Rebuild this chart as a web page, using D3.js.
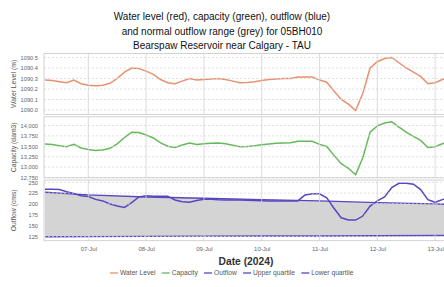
<!DOCTYPE html>
<html><head><meta charset="utf-8">
<script src="https://cdn.jsdelivr.net/npm/d3@7"></script>
<style>body{margin:0;background:#fff}svg{display:block;font-family:"Liberation Sans",Arial,sans-serif}</style>
</head><body><svg id="c" width="444" height="287"></svg>
<script>
// hours relative to 07-Jul-2024 00:00
const hours = [-18,-15,-12,-9,-6,-3,0,3,6,9,12,15,18,21,24,27,30,33,36,39,42,45,48,51,54,57,60,63,66,69,72,75,78,81,84,87,90,93,96,99,102,105,108,111,114,117,120,123,126,129,132,135,138,141,144,147,150];
const waterLevel = [1090.285,1090.28,1090.27,1090.26,1090.285,1090.25,1090.235,1090.23,1090.235,1090.254,1090.30,1090.36,1090.40,1090.395,1090.37,1090.34,1090.29,1090.26,1090.25,1090.275,1090.30,1090.286,1090.29,1090.295,1090.30,1090.29,1090.275,1090.26,1090.262,1090.27,1090.28,1090.29,1090.295,1090.30,1090.30,1090.315,1090.315,1090.315,1090.285,1090.265,1090.18,1090.10,1090.055,1089.995,1090.16,1090.40,1090.46,1090.49,1090.50,1090.45,1090.40,1090.36,1090.32,1090.25,1090.26,1090.29,1090.31];
const capacity = [13552,13540,13515,13490,13545,13460,13420,13400,13410,13450,13560,13710,13840,13830,13770,13700,13580,13500,13470,13530,13580,13545,13560,13570,13580,13560,13525,13490,13495,13510,13535,13555,13570,13580,13585,13620,13620,13620,13545,13495,13280,13080,12970,12815,13230,13840,13990,14060,14090,13960,13840,13740,13640,13470,13490,13560,13610];
const outflow = [234,234,233.5,228,224,219,217,210.5,207,200,195,192,203,216,219,218,218,218,209,205,203.7,208,210.6,210.6,209.5,209,209,209,208.5,208,207.5,207,207,206.7,206.7,207,220.6,223.5,223.5,214,190,168,162.7,162.7,172,195,207,216,238,247.7,247.7,245.5,233,210,203.7,210,216];
const quartileHours = [-18,0,24,48,72,96,120,144,150];
const upperQuartile = [227,221,216,213,210,207,203,200,199];
const lowerQuartile = [124,124.5,125,125.5,126,126,126.5,127,127];
const levelTicks = [1090.0,1090.1,1090.2,1090.3,1090.4,1090.5];
const capacityTicks = [12750,13000,13250,13500,13750,14000];
const outflowTicks = [125,150,175,200,225,250];
const titleLines = ["Water level (red), capacity (green), outflow (blue)","and normal outflow range (grey) for 05BH010","Bearspaw Reservoir near Calgary - TAU"];
const legendItems = ["Water Level","Capacity","Outflow","Upper quartile","Lower quartile"];

const base = new Date(2024,6,7,0,0).getTime();
const toDate = h => new Date(base + h*3600e3);
const svg = d3.select("#c");
const L = 44, R = 448;
const x = d3.scaleTime().domain([new Date(2024,6,6,5,36), new Date(2024,6,13,5,21)]).range([L,R]);

const cLevel = "#e8916e", cCap = "#66b95a", cFlow = "#5647c0";

// title
svg.append("g").selectAll("text").data(titleLines).join("text")
  .attr("x",222).attr("y",(d,i)=>20+i*14.5).attr("text-anchor","middle")
  .attr("font-size",10).attr("fill","#111").text(d=>d);

const panels = [
  {top:53.5,bottom:114.3,domain:[1089.959,1090.538],ticks:levelTicks,fmt:d3.format(".1f"),title:"Water Level (m)"},
  {top:116.8,bottom:177.8,domain:[12740,14210],ticks:capacityTicks,fmt:d3.format(","),title:"Capacity (dam3)"},
  {top:180,bottom:240.7,domain:[115,255.3],ticks:outflowTicks,fmt:d3.format("d"),title:"Outflow (cms)"}
];
const days = d3.timeDay.range(new Date(2024,6,7), new Date(2024,6,14));

panels.forEach((p,i)=>{
  const y = d3.scaleLinear().domain(p.domain).range([p.bottom,p.top]);
  p.y = y;
  const g = svg.append("g");
  const cid = "clip"+i;
  svg.append("clipPath").attr("id",cid).append("rect").attr("x",L).attr("y",p.top).attr("width",R-L).attr("height",p.bottom-p.top);
  p.g = g.append("g").attr("clip-path",`url(#${cid})`);
  g.append("g").selectAll("line").data(p.ticks).join("line")
    .attr("x1",L).attr("x2",R).attr("y1",d=>y(d)).attr("y2",d=>y(d))
    .attr("stroke","#d8d8d8").attr("stroke-width",0.8).attr("stroke-dasharray","2,2");
  g.append("g").selectAll("line").data(days).join("line")
    .attr("x1",d=>x(d)).attr("x2",d=>x(d)).attr("y1",p.top).attr("y2",p.bottom)
    .attr("stroke","#d4d4d4").attr("stroke-width",0.8);
  const ax = d3.axisLeft(y).tickValues(p.ticks).tickFormat(p.fmt).tickSize(0).tickPadding(5);
  const ag = svg.append("g").attr("transform",`translate(${L-1},0)`).call(ax);
  ag.select(".domain").remove();
  ag.selectAll("text").attr("font-size",5.7).attr("fill","#666").attr("font-family","Liberation Sans, Arial");
  svg.append("text").attr("transform",`translate(13.5,${(p.top+p.bottom)/2}) rotate(-90)`)
    .attr("text-anchor","middle").attr("dy","0.35em").attr("font-size",6.8).attr("fill","#555").text(p.title);
});

const p0 = panels[0], p1 = panels[1], p2 = panels[2];
p0.g.append("path").datum(hours.map((h,i)=>[toDate(h),waterLevel[i]]))
  .attr("d",d3.line().x(d=>x(d[0])).y(d=>p0.y(d[1])))
  .attr("fill","none").attr("stroke",cLevel).attr("stroke-width",1.5);
p1.g.append("path").datum(hours.map((h,i)=>[toDate(h),capacity[i]]))
  .attr("d",d3.line().x(d=>x(d[0])).y(d=>p1.y(d[1])))
  .attr("fill","none").attr("stroke",cCap).attr("stroke-width",1.5);
const q = quartileHours.map((h,i)=>({d:toDate(h),u:upperQuartile[i],l:lowerQuartile[i]}));
p2.g.append("path").datum(q)
  .attr("d",d3.area().x(d=>x(d.d)).y0(d=>p2.y(d.l)).y1(d=>p2.y(d.u)))
  .attr("fill","#d4d4d4");
p2.g.append("path").datum(q).attr("d",d3.line().x(d=>x(d.d)).y(d=>p2.y(d.u)))
  .attr("fill","none").attr("stroke",cFlow).attr("stroke-width",1.4);
p2.g.append("path").datum(q).attr("d",d3.line().x(d=>x(d.d)).y(d=>p2.y(d.l)))
  .attr("fill","none").attr("stroke",cFlow).attr("stroke-width",1.4);
p2.g.append("path").datum(hours.map((h,i)=>[toDate(h),outflow[i]]))
  .attr("d",d3.line().x(d=>x(d[0])).y(d=>p2.y(d[1])))
  .attr("fill","none").attr("stroke",cFlow).attr("stroke-width",1.5);

panels.forEach(p=>{
  svg.append("rect").attr("x",L).attr("y",p.top).attr("width",R-L+10).attr("height",p.bottom-p.top)
    .attr("fill","none").attr("stroke","#c8c8c8").attr("stroke-width",0.8);
});

const xa = d3.axisBottom(x).tickValues(days).tickFormat(d3.timeFormat("%d-%b")).tickSize(0).tickPadding(6);
const xg = svg.append("g").attr("transform",`translate(0,${p2.bottom})`).call(xa);
xg.select(".domain").remove();
xg.selectAll("text").attr("font-size",6).attr("fill","#666").attr("font-family","Liberation Sans, Arial");
svg.append("text").attr("x",(L+R)/2).attr("y",265).attr("text-anchor","middle")
  .attr("font-size",10.3).attr("font-weight","bold").attr("fill","#333").text("Date (2024)");

const legColors = [cLevel,cCap,cFlow,cFlow,cFlow];
const lg = svg.append("g");
let lx = 110;
legendItems.forEach((t,i)=>{
  lg.append("line").attr("x1",lx).attr("x2",lx+8).attr("y1",273).attr("y2",273)
    .attr("stroke",legColors[i]).attr("stroke-width",1.3);
  const tx = lg.append("text").attr("x",lx+10).attr("y",275.3).attr("font-size",6.7).attr("fill","#555").text(t);
  lx += 10 + tx.node().getComputedTextLength() + 6.3;
});
</script></body></html>
